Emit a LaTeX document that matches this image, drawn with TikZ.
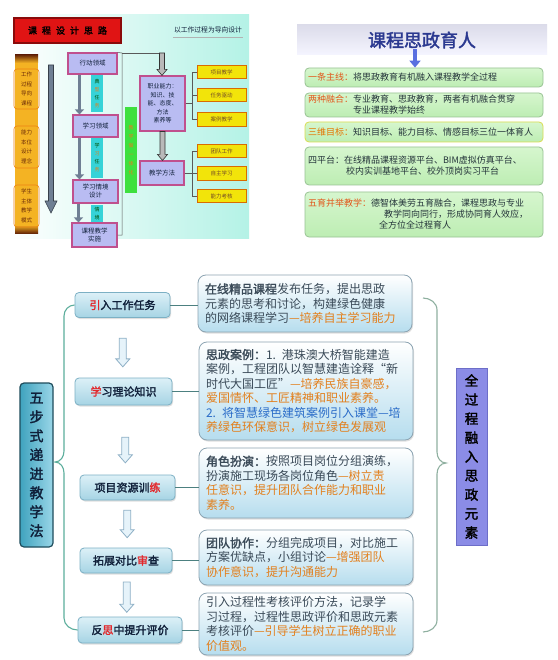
\documentclass[tikz,border=0pt]{standalone}
\usepackage{fontspec}
\setmainfont{Noto Sans CJK SC}[AutoFakeBold=2]
\usetikzlibrary{arrows.meta,shadows,calc}
\definecolor{tlcyan}{HTML}{B4F2E6}
\definecolor{hdrred}{HTML}{E01414}
\definecolor{hdrdark}{HTML}{8A0A0A}
\definecolor{corange}{HTML}{F4B323}
\definecolor{cbrown}{HTML}{6A2A08}
\definecolor{clav}{HTML}{B9BCF2}
\definecolor{cpink}{HTML}{C0508E}
\definecolor{ccyan}{HTML}{36D3D8}
\definecolor{cgreen}{HTML}{3EE03E}
\definecolor{cyel}{HTML}{F2E40A}
\definecolor{cgray}{HTML}{6F7F94}
\definecolor{ttl}{HTML}{2B3990}
\definecolor{ttlbg}{HTML}{DCDCEA}
\definecolor{barw}{HTML}{5A6FE0}
\definecolor{gfill1}{HTML}{D6F6CE}
\definecolor{gfill2}{HTML}{BDEDB3}
\definecolor{gdraw}{HTML}{98C294}
\definecolor{glab}{HTML}{E2571B}
\definecolor{gtext}{HTML}{24343A}
\definecolor{lbox1}{HTML}{3FA3BE}
\definecolor{lbox2}{HTML}{9AD6E8}
\definecolor{lboxd}{HTML}{1E4C5C}
\definecolor{navy}{HTML}{10203A}
\definecolor{sfill1}{HTML}{DCF0F7}
\definecolor{sfill2}{HTML}{A6D4E4}
\definecolor{sdraw}{HTML}{7CB0C4}
\definecolor{cred}{HTML}{E3262A}
\definecolor{dfill}{HTML}{B6DDEE}
\definecolor{ddraw}{HTML}{8CA4B2}
\definecolor{dtext}{HTML}{3A4A58}
\definecolor{hl}{HTML}{E2801E}
\definecolor{hlblue}{HTML}{2A6CC8}
\definecolor{brl}{HTML}{5CAE9C}
\definecolor{brr}{HTML}{8FB0A0}
\definecolor{purp}{HTML}{8B8CE6}
\definecolor{purpd}{HTML}{6D6EC8}
\definecolor{afill}{HTML}{E6F3FA}
\definecolor{adraw}{HTML}{8EB0C6}
\newcommand\orng[1]{\textcolor{hl}{#1}}
\newcommand\redch[1]{\textcolor{cred}{#1}}
\newcommand\glabel[1]{\textcolor{glab}{#1}}
\newcommand\blockarrow[6]{%
  \draw[#1] let \p1=(#2), \p2=(#3) in
    (\x1-#4,\y1) -- (\x1+#4,\y1) -- (\x1+#4,\y2+#6) -- (\x1+#5,\y2+#6)
    -- (\x1,\y2) -- (\x1-#5,\y2+#6) -- (\x1-#4,\y2+#6) -- cycle;}
\begin{document}
\begin{tikzpicture}[x=1pt,y=-1pt,
  hdrbox/.style={draw=hdrdark,line width=1.5pt,fill=hdrred,minimum width=107pt,minimum height=25pt,inner sep=0pt,font=\fontsize{9}{10}\selectfont\bfseries,text=black},
  ogrp/.style={draw=orange!70!brown,rounded corners=3pt,line width=0.6pt,minimum width=25pt,inner sep=1pt,align=center,font=\fontsize{5.5}{9.5}\selectfont,text=cbrown},
  cbox/.style={draw=cpink,line width=1.1pt,fill=clav,inner sep=1pt,align=center,font=\fontsize{6.5}{8}\selectfont,text=navy},
  strip/.style={fill=ccyan,inner sep=0.5pt,minimum width=12pt,align=center,font=\fontsize{5}{8}\selectfont,text=green!30!black},
  ybox/.style={fill=cyel,draw=orange!85!black,line width=0.7pt,minimum width=49pt,minimum height=13.5pt,inner sep=0pt,font=\fontsize{5.5}{6}\selectfont,text=brown!60!black},
  bigarr/.style={draw=cgray!50!black,fill=cgray,line width=0.6pt},
  tarr/.style={draw=gray!40!black,fill=gray!55,line width=0.6pt},
  lnk/.style={draw=gray!70!black,line width=0.5pt},
  garrow/.style={cgray,line width=3pt,-{Triangle[length=5pt,width=9pt]}},
  gbox/.style={rounded corners=4pt,draw=gdraw,line width=0.8pt,top color=gfill1,bottom color=gfill2,text width=232pt,inner xsep=3pt,inner ysep=1pt,align=left,font=\fontsize{9}{11}\selectfont,text=gtext},
  lbox/.style={rounded corners=4pt,draw=lboxd,line width=1.2pt,left color=lbox1,right color=lbox2,minimum width=33pt,minimum height=164pt,inner sep=0pt,align=center,font=\fontsize{14}{19}\selectfont\bfseries,text=navy},
  sbox/.style={rounded corners=4pt,draw=sdraw,line width=0.8pt,top color=sfill1,bottom color=sfill2,minimum height=25pt,inner sep=0pt,font=\fontsize{11}{12}\selectfont\bfseries,text=navy,drop shadow={opacity=0.25,shadow xshift=1pt,shadow yshift=-1.5pt}},
  dbox/.style={rounded corners=8pt,draw=ddraw,line width=0.8pt,top color=white,bottom color=dfill,text width=200pt,inner xsep=7pt,inner ysep=2pt,align=left,font=\fontsize{12}{14.5}\selectfont,text=dtext,drop shadow={opacity=0.25,shadow xshift=1pt,shadow yshift=-1.5pt}},
  harr/.style={draw=adraw,fill=afill,line width=0.8pt},
  conn/.style={draw=gray!60!teal,line width=0.8pt},
  bracel/.style={draw=brl,line width=1.1pt},
  bracer/.style={draw=brr,line width=1.1pt},
  pbox/.style={fill=purp,draw=purpd,line width=0.6pt,minimum width=31pt,minimum height=177pt,inner sep=0pt,align=center,font=\fontsize{13.5}{19}\selectfont\bfseries,text=black}
]
\useasboundingbox (0,0) rectangle (557,660);
\fill[white] (0,0) rectangle (557,660);

% ===== top-left panel =====
\shade[left color=white,right color=tlcyan] (9,15) rectangle (249,238);
\node[hdrbox] (hdr) at (67.5,30.5) {课\hspace{5pt}程\hspace{5pt}设\hspace{5pt}计\hspace{5pt}思\hspace{5pt}路};
\node[font=\fontsize{6.8}{8}\selectfont,text=navy,inner sep=1pt] (sub) at (208,30) {以工作过程为导向设计};
\draw[gray!60,line width=1.2pt] ([yshift=-3pt]sub.south west) -- ([yshift=-3pt]sub.south east);

\fill[corange] (15,62) rectangle (38,226);
\shade[top color=cbrown,bottom color=corange] (15,55) rectangle (38,63);
\shade[top color=corange,bottom color=cbrown] (15,225) rectangle (38,233);
\node[ogrp,minimum height=40pt] (og1) at (26.5,89) {工作\\过程\\导向\\课程};
\node[ogrp,minimum height=42pt] (og2) at (26.5,147) {能力\\本位\\设计\\理念};
\node[ogrp,minimum height=42pt] (og3) at (26.5,206) {学生\\主体\\教学\\模式};
\blockarrow{bigarr}{51,65}{51,213}{2.5pt}{6pt}{12pt}

\node[cbox,minimum width=49pt,minimum height=21pt] (A) at (92.5,63.5) {行动领域};
\node[cbox,minimum width=45pt,minimum height=22pt] (B) at (95.5,126) {学习领域};
\node[cbox,minimum width=45pt,minimum height=23pt] (C) at (95.5,191.5) {学习情境\\设计};
\node[cbox,minimum width=45pt,minimum height=24pt] (D) at (94.5,235) {课程教学\\实施};
\node[strip,minimum height=37pt] (st1) at (97,93.5) {典\\\textcolor{hl}{型}\\任\\\textcolor{hl}{务}};
\node[strip,minimum height=40pt] (st2) at (97,158) {学\\\textcolor{hl}{习}\\任\\\textcolor{hl}{务}};
\node[strip,minimum height=17pt] (st3) at (97,213.5) {情\\境};
\draw[garrow] ([xshift=7pt]B.north west |- A.south) -- ([xshift=7pt]B.north west);
\draw[garrow] ([xshift=7pt]C.north west |- B.south) -- ([xshift=7pt]C.north west);
\draw[garrow] ([xshift=7pt]D.north west |- C.south) -- ([xshift=7pt]D.north west);

\node[fill=cgreen,minimum width=12pt,minimum height=86pt,inner sep=0pt,align=center,font=\fontsize{5}{9}\selectfont,text=hl] (gb) at (131,150) {教\\学\\做\\一\\体\\化};

\coordinate (br) at (122,53);
\coordinate (tt) at (162,53);
\draw[lnk] (A.north east) -- (br) -- (br |- D.east) -- (D.east);
\draw[lnk] (br) -- (tt);

\node[cbox,minimum width=45pt,minimum height=55pt,font=\fontsize{6}{8.5}\selectfont] (E) at (162.5,103.5) {职业能力：\\知识、技\\能、态度、\\方法\\素养等};
\node[cbox,minimum width=44pt,minimum height=24pt] (F) at (162,173) {教学方法};
\blockarrow{tarr}{tt}{E.north}{2.5pt}{5pt}{6pt}
\blockarrow{tarr}{E.south}{F.north}{2.5pt}{5pt}{6pt}

\node[ybox] (y1) at (221.5,72) {项目教学};
\node[ybox] (y2) at (221.5,95) {任务驱动};
\node[ybox] (y3) at (221.5,119.5) {案例教学};
\node[ybox] (y4) at (221.5,151) {团队工作};
\node[ybox] (y5) at (221.5,173.5) {自主学习};
\node[ybox] (y6) at (221.5,196) {能力考核};
\coordinate (bE) at (192,103.5);
\coordinate (bF) at (192,173);
\draw[lnk] (E.east) -- (bE);
\draw[lnk] (y1.west) -- (y1.west -| bE) -- (y3.west -| bE) -- (y3.west);
\draw[lnk] (y2.west) -- (y2.west -| bE);
\draw[lnk] (F.east) -- (bF);
\draw[lnk] (y4.west) -- (y4.west -| bF) -- (y6.west -| bF) -- (y6.west);
\draw[lnk] (y5.west) -- (y5.west -| bF);

% ===== top-right =====
\node[minimum width=250pt,minimum height=30pt,top color=ttlbg,bottom color=white!96!blue,inner sep=0pt,font=\fontsize{18}{20}\selectfont\bfseries,text=ttl] (title) at (422,40) {课程思政育人};
\node[gbox,minimum height=19pt] (g1) at (424,77.5) {\glabel{一条主线：}将思政教育有机融入课程教学全过程};
\node[gbox,minimum height=24pt] (g2) at (424,105) {\glabel{两种融合：}专业教育、思政教育，两者有机融合贯穿\\\hspace*{45pt}专业课程教学始终};
\node[gbox,minimum height=20pt,draw=yellow!60!gdraw] (g3) at (424,132) {\textcolor{orange!90!black}{三维目标：}知识目标、能力目标、情感目标三位一体育人};
\node[gbox,minimum height=38pt] (g4) at (424,166) {四平台：在线精品课程资源平台、BIM虚拟仿真平台、\\\hspace*{38pt}校内实训基地平台、校外顶岗实习平台};
\node[gbox,minimum height=45pt] (g5) at (424,214.5) {\glabel{五育并举教学：}德智体美劳五育融合，课程思政与专业\\\hspace*{76pt}教学同向同行，形成协同育人效应，\\\hspace*{71pt}全方位全过程育人};
\draw[barw,line width=4pt,-{Triangle[length=7pt,width=11pt]}] ([xshift=-7pt,yshift=6pt]title.south) -- ([xshift=-7pt]title.south |- g1.north);

% ===== bottom =====
\node[lbox] (L) at (36.5,465) {五\\步\\式\\递\\进\\教\\学\\法};

\node[sbox,minimum width=95pt] (s1) at (122.5,305) {\redch{引}入工作任务};
\node[sbox,minimum width=97pt,minimum height=27pt] (s2) at (123.5,391.5) {\redch{学}习理论知识};
\node[sbox,minimum width=95pt] (s3) at (127.5,487.5) {项目资源训\redch{练}};
\node[sbox,minimum width=92pt] (s4) at (126,560.5) {拓展对比\redch{审}查};
\node[sbox,minimum width=104pt,minimum height=26pt] (s5) at (130,630) {反\redch{思}中提升评价};

\blockarrow{harr}{$(s1.south)!0.34!(s2.north)$}{$(s1.south)!0.82!(s2.north)$}{3.5pt}{7pt}{8pt}
\blockarrow{harr}{$(s2.south)!0.46!(s3.north)$}{$(s2.south)!0.83!(s3.north)$}{3.5pt}{7pt}{8pt}
\blockarrow{harr}{$(s3.south)!0.21!(s4.north)$}{$(s3.south)!0.79!(s4.north)$}{3.5pt}{7pt}{8pt}
\blockarrow{harr}{$(s4.south)!0.20!(s5.north)$}{$(s4.south)!0.90!(s5.north)$}{3.5pt}{7pt}{8pt}

\coordinate (lbt) at (55,462);
\draw[bracel] (s1.west) to[out=180,in=90] (64,316) -- (64,451) to[out=270,in=0] (lbt)
  to[out=0,in=90] (64,473) -- (64,618) to[out=270,in=180] (s5.west);

\node[dbox,minimum height=57pt] (d1) at (305,303.5) {\textbf{在线精品课程}发布任务，提出思政\\元素的思考和讨论，构建绿色健康\\的网络课程学习\orng{—培养自主学习能力}};
\node[dbox,minimum height=98pt] (d2) at (306,391) {\textbf{思政案例：}1. 港珠澳大桥智能建造\\案例，工程团队以智慧建造诠释“新\\时代大国工匠”\orng{—培养民族自豪感，}\\\orng{爱国情怀、工匠精神和职业素养。}\\\textcolor{hlblue}{2. 将智慧绿色建筑案例引入课堂—培}\\\orng{养绿色环保意识，树立绿色发展观}};
\node[dbox,minimum height=70pt] (d3) at (306,483) {\textbf{角色扮演：}按照项目岗位分组演练，\\扮演施工现场各岗位角色\orng{—树立责}\\\orng{任意识，提升团队合作能力和职业}\\\orng{素养。}};
\node[dbox,minimum height=55pt] (d4) at (306,557.5) {\textbf{团队协作：}分组完成项目，对比施工\\方案优缺点，小组讨论\orng{—增强团队}\\\orng{协作意识，提升沟通能力}};
\node[dbox,minimum height=62pt] (d5) at (306,624) {引入过程性考核评价方法，记录学\\习过程，过程性思政评价和思政元素\\考核评价\orng{—引导学生树立正确的职业}\\\orng{价值观。}};

\draw[conn] (s1.east) -- (s1.east -| d1.west);
\draw[conn] (s2.east) -- (s2.east -| d2.west);
\draw[conn] (s3.east) -- (s3.east -| d3.west);
\draw[conn] (s4.east) -- (s4.east -| d4.west);
\draw[conn] (s5.east) -- (s5.east -| d5.west);

\coordinate (rb1) at (423,298);
\coordinate (rb2) at (423,632);
\coordinate (rbt) at (446,463);
\draw[bracer] (rb1) to[out=0,in=90] (437,310) -- (437,452) to[out=270,in=180] (rbt)
  to[out=180,in=90] (437,474) -- (437,620) to[out=270,in=0] (rb2);

\node[pbox] (P) at (471.5,456.5) {全\\过\\程\\融\\入\\思\\政\\元\\素};
\end{tikzpicture}
\end{document}
